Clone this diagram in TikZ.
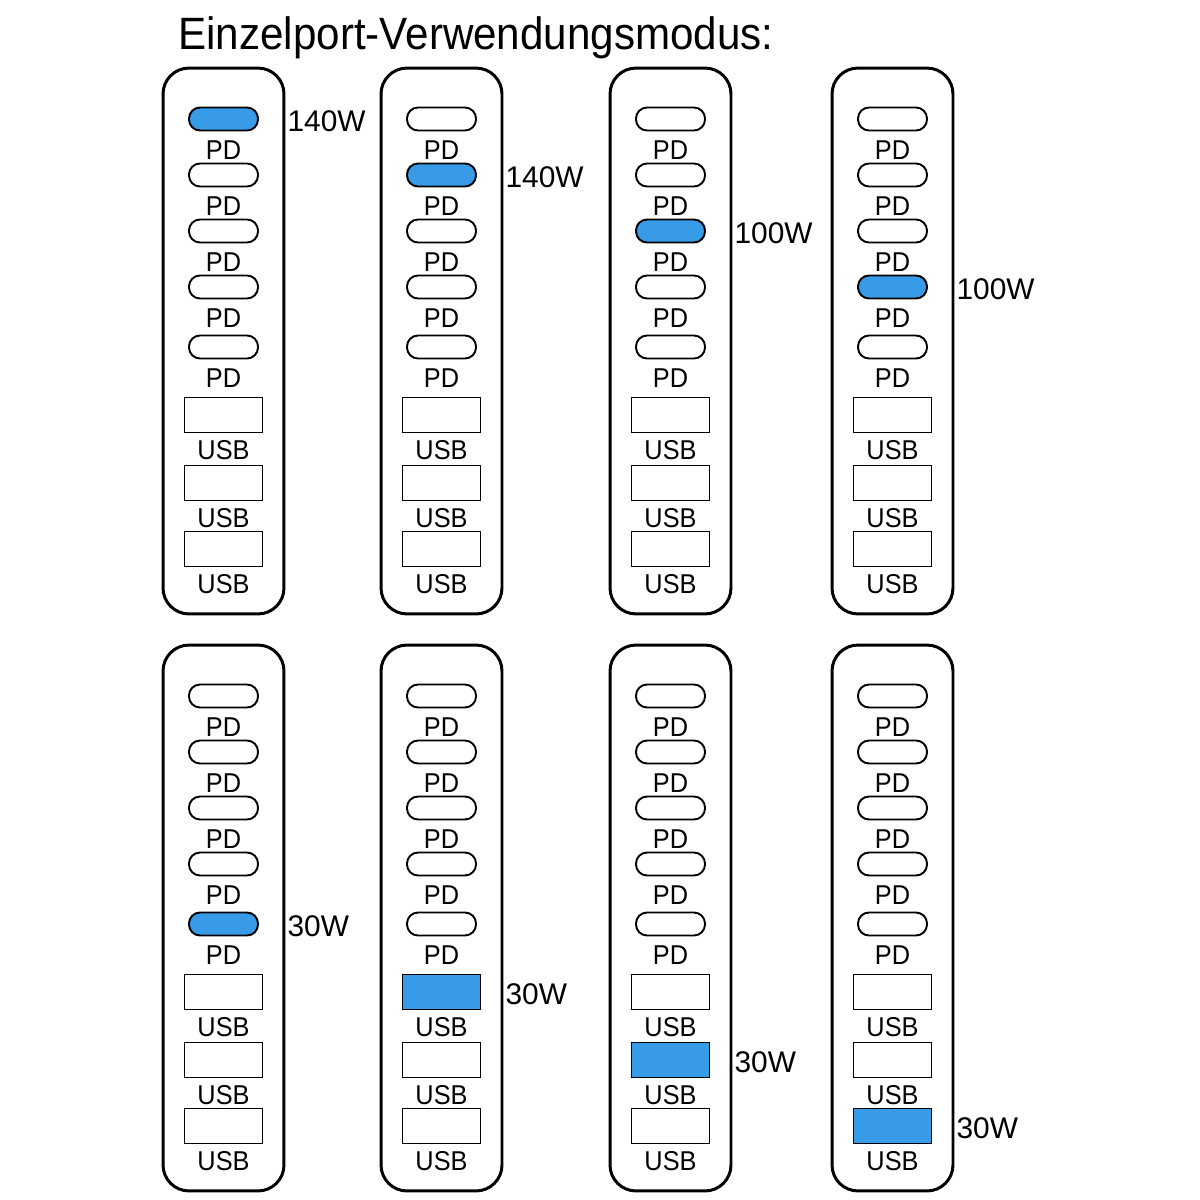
\documentclass[tikz,border=0pt]{standalone}
\usepackage{fontspec}
\setmainfont{Liberation Sans}
\newfontfamily\narrowsf[FakeStretch=0.93]{Liberation Sans}
\usetikzlibrary{positioning,calc}
\definecolor{hot}{RGB}{55,155,232}

\begin{document}
\begin{tikzpicture}[x=0.02cm,y=-0.02cm,
  panel/.style={draw,line width=1.7pt,rounded corners=0.52cm,minimum width=2.42cm,minimum height=10.92cm,inner sep=0pt},
  pd/.style={draw,line width=1.1pt,rounded corners=0.22cm,minimum width=1.38cm,minimum height=0.46cm,inner sep=0pt},
  usb/.style={draw,line width=0.9pt,minimum width=1.56cm,minimum height=0.70cm,inner sep=0pt},
  tag/.style={font=\narrowsf\fontsize{15.5}{15.5}\selectfont,inner sep=0pt},
  watt/.style={font=\fontsize{17}{17}\selectfont,inner sep=0pt,anchor=west}]
\useasboundingbox (0,0) rectangle (1200,1200);
\node[font=\narrowsf\fontsize{25.8}{25.8}\selectfont,inner sep=0pt,anchor=base west] (title) at (178,50) {Einzelport-Verwendungsmodus:};
% one charger per mode, port k is the active one
\foreach \k/\cx/\ty/\pw in {1/223.5/68/140W,2/441.5/68/140W,3/670.5/68/100W,4/892.5/68/100W,
                            5/223.5/645/30W,6/441.5/645/30W,7/670.5/645/30W,8/892.5/645/30W}{
  \node[panel] (p\k) at (\cx,\ty+273) {};
  \foreach \i/\dy/\lab in {1/51/PD,2/107/PD,3/163/PD,4/219/PD,5/279/PD,6/347/USB,7/415/USB,8/481/USB}{
    \ifnum\i<6 \tikzset{cur/.style={pd}}\def\gap{31}\else\tikzset{cur/.style={usb}}\def\gap{35}\fi
    \ifnum\i=\k \def\fc{hot}\else\def\fc{white}\fi
    \node[cur,fill=\fc] (c\k-\i) at (\cx,\ty+\dy) {};
    \node[tag] (t\k-\i) at (\cx,\ty+\dy+\gap) {\lab};
  }
  \node[watt] (w\k) at ([xshift=1pt,yshift=-1pt]p\k.east |- c\k-\k) {\pw};
}
\end{tikzpicture}
\end{document}
